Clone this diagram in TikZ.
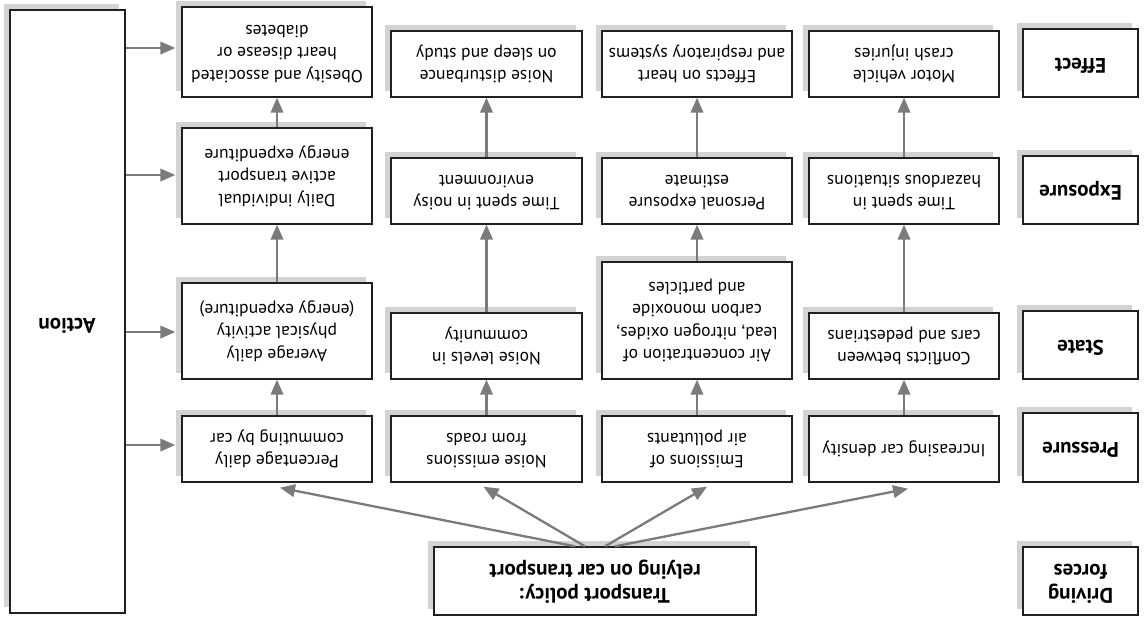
\documentclass[tikz,border=0pt]{standalone}
\usepackage{fontspec}
\usepackage{graphicx}
\setmainfont{PT Sans}
\usetikzlibrary{arrows.meta}
\definecolor{shd}{HTML}{D3D3D3}
\definecolor{arrg}{HTML}{7B7B7D}
\definecolor{brd}{HTML}{231F20}
\newcommand\UD[1]{\rotatebox[origin=c]{180}{\begin{tabular}{@{}c@{}}#1\end{tabular}}}
% name, x1, y1, x2, y2, style, text
\newcommand\mybox[7]{%
  \fill[shd] (#2-6,#3-6) rectangle (#4-6,#5-6);
  \node[#6, minimum width={(#4-#2)*1pt}, minimum height={(#5-#3)*1pt}] (#1) at ({(#2+#4)/2},{(#3+#5)/2}) {\UD{#7}};
}
\begin{document}
\begin{tikzpicture}[x=1pt,y=-1pt,
  box/.style={draw=brd, fill=white, line width=1.4pt, inner sep=0pt,
    font=\fontsize{17.5}{22.5}\selectfont},
  lbl/.style={box, font=\fontsize{21}{24}\selectfont\bfseries},
  arr/.style={draw=arrg, line width=2.3pt, -{Triangle[length=15pt,width=12.5pt]}}]
\useasboundingbox[fill=white] (0,0) rectangle (1147,622);

% Action
\mybox{act}{10}{10}{125}{613}{box}{}
\node[font=\fontsize{21}{24}\selectfont\bfseries, inner sep=0pt] (acttxt) at (67,323) {\UD{Action}};

% column 1
\mybox{ea}{182}{7}{372}{97}{box}{Obesity and associated\\heart disease or\\diabetes}
\mybox{xa}{182}{128}{372}{224}{box}{Daily individual\\active transport\\energy expenditure}
\mybox{sa}{182}{283}{372}{379}{box}{Average daily\\physical activity\\(energy expenditure)}
\mybox{pa}{182}{416}{372}{482}{box}{Percentage daily\\commuting by car}
% column 2
\mybox{eb}{391}{31}{582}{97}{box}{Noise disturbance\\on sleep and study}
\mybox{xb}{391}{158}{582}{224}{box}{Time spent in noisy\\environment}
\mybox{sb}{391}{313}{582}{379}{box}{Noise levels in\\community}
\mybox{pb}{391}{416}{582}{482}{box}{Noise emissions\\from roads}
% column 3
\mybox{ec}{602}{31}{792}{97}{box}{Effects on heart\\and respiratory systems}
\mybox{xc}{602}{158}{792}{224}{box}{Personal exposure\\estimate}
\mybox{sc}{602}{262}{792}{379}{box}{Air concentration of\\lead, nitrogen oxides,\\carbon monoxide\\and particles}
\mybox{pc}{602}{416}{792}{482}{box}{Emissions of\\air pollutants}
% column 4
\mybox{ed}{809}{31}{999}{97}{box}{Motor vehicle\\crash injuries}
\mybox{xd}{809}{158}{999}{224}{box}{Time spent in\\hazardous situations}
\mybox{sd}{809}{313}{999}{379}{box}{Conflicts between\\cars and pedestrians}
\mybox{pd}{809}{416}{999}{482}{box}{Increasing car density}
% labels
\mybox{le}{1023}{29}{1138}{97}{lbl}{Effect}
\mybox{lx}{1023}{156}{1138}{224}{lbl}{Exposure}
\mybox{ls}{1023}{311}{1138}{379}{lbl}{State}
\mybox{lp}{1023}{413}{1138}{482}{lbl}{Pressure}
\mybox{ld}{1023}{547}{1138}{615}{lbl}{Driving\\forces}
% policy
\mybox{pol}{434}{547}{756}{615}{lbl}{Transport policy:\\relying on car transport}

% policy arrows
\draw[arr] ([xshift=-20pt]pol.north) -- ([xshift=3pt,yshift=-5pt]pa.south);
\draw[arr] ([xshift=-10pt]pol.north) -- ([xshift=-3pt,yshift=-4pt]pb.south);
\draw[arr] ([xshift=10pt]pol.north) -- ([xshift=10pt,yshift=-4pt]pc.south);
\draw[arr] ([xshift=20pt]pol.north) -- ([xshift=4pt,yshift=-6pt]pd.south);

% vertical arrows
\foreach \c in {a,b,c,d}{
  \draw[arr] (p\c.north) -- (s\c.south);
  \draw[arr] (s\c.north) -- (x\c.south);
  \draw[arr] (x\c.north) -- (e\c.south);
}

% action arrows
\draw[arr] (act.east |- 0,48) -- ([xshift=-6pt]ea.west |- 0,48);
\draw[arr] (act.east |- 0,175) -- ([xshift=-6pt]xa.west |- 0,175);
\draw[arr] (act.east |- 0,332) -- ([xshift=-6pt]sa.west |- 0,332);
\draw[arr] (act.east |- 0,445) -- ([xshift=-6pt]pa.west |- 0,445);
\end{tikzpicture}
\end{document}
